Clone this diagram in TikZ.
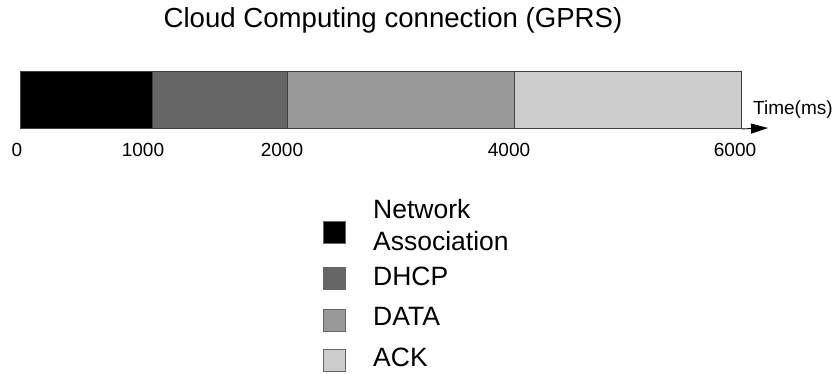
\documentclass[tikz,border=0pt]{standalone}
\usepackage{fontspec}
\setmainfont{Liberation Sans}
\usetikzlibrary{arrows.meta}
\tikzset{
  seg/.style={draw=black!75, line width=0.9pt, inner sep=0pt, anchor=north west, minimum height=57pt},
  key/.style={draw=black!60, line width=1.2pt, inner sep=0pt, minimum width=22pt, minimum height=22pt, anchor=north west},
  tick/.style={anchor=base, inner sep=0pt, font=\fontsize{19}{23}\selectfont},
  legtext/.style={anchor=base west, inner sep=0pt, align=left, font=\fontsize{26.5}{32}\selectfont},
  axis/.style={line width=0.9pt, -{Triangle[length=17pt,width=10pt]}}
}
\begin{document}
\begin{tikzpicture}[x=1pt,y=-1pt]
\useasboundingbox (0,0) rectangle (835,374);
\node[anchor=base, inner sep=0pt, font=\fontsize{27.6}{32}\selectfont] (title) at (393,28) {Cloud Computing connection (GPRS)};
\node[seg, fill=black, minimum width=132pt] (s1) at (20,71) {};
\node[seg, fill={rgb,255:red,102;green,102;blue,102}, minimum width=135pt] (s2) at (152,71) {};
\node[seg, fill={rgb,255:red,153;green,153;blue,153}, minimum width=227pt] (s3) at (287,71) {};
\node[seg, fill={rgb,255:red,204;green,204;blue,204}, minimum width=227pt] (s4) at (514,71) {};
\coordinate (tip) at (768,128);
\draw[axis] (s4.south east) -- (tip);
\node[anchor=base west, inner sep=0pt, font=\fontsize{19}{22}\selectfont] (tlab) at (753,115) {Time(ms)};
\node[tick] (t0) at (17,157) {0};
\node[tick] (t1) at (143,157) {1000};
\node[tick] (t2) at (282,157) {2000};
\node[tick] (t4) at (509,157) {4000};
\node[tick] (t6) at (735,157) {6000};
\node[key, fill=black] (k1) at (323,221) {};
\node[key, fill={rgb,255:red,102;green,102;blue,102}] (k2) at (323,267) {};
\node[key, fill={rgb,255:red,153;green,153;blue,153}] (k3) at (323,309) {};
\node[key, fill={rgb,255:red,204;green,204;blue,204}] (k4) at (323,349) {};
\node[legtext] (l1) at (373,250) {Network\\Association};
\node[legtext] (l2) at (373,285) {DHCP};
\node[legtext] (l3) at (373,325) {DATA};
\node[legtext] (l4) at (373,366) {ACK};
\end{tikzpicture}
\end{document}
